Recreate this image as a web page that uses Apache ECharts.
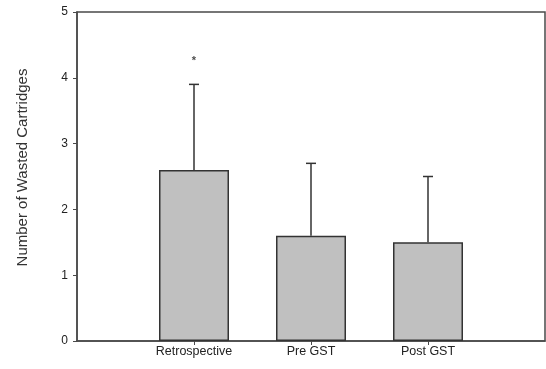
<!DOCTYPE html>
<html>
<head>
<meta charset="utf-8">
<script src="https://cdn.jsdelivr.net/npm/echarts@6/dist/echarts.min.js"></script>
<style>html,body{margin:0;padding:0;background:#fff;}#c{width:546px;height:369px;}</style>
</head>
<body>
<div id="c"></div>
<script>
var categories = ['', 'Retrospective', 'Pre GST', 'Post GST', ''];
var means = [null, 2.6, 1.6, 1.5, null];
var errorTops = [null, 3.9, 2.7, 2.5, null];
var asterisks = [[1, 4.3]];
var yTicks = [0, 1, 2, 3, 4, 5];

var chart = echarts.init(document.getElementById('c'));
var lineColor = '#4a4a4a';
chart.setOption({
  animation: false,
  grid: { left: 77, right: 1, top: 12, bottom: 28, show: true, borderColor: lineColor, borderWidth: 1.5, backgroundColor: 'transparent' },
  xAxis: {
    type: 'category', data: categories, boundaryGap: false,
    axisLine: { lineStyle: { color: lineColor, width: 1.5 } },
    axisTick: { show: true, length: 4, lineStyle: { color: lineColor }, interval: function (i, v) { return v !== ''; }, alignWithLabel: true },
    axisLabel: { color: '#222', fontFamily: 'Liberation Sans, Arial', fontSize: 12.5, margin: 4, interval: function (i, v) { return v !== ''; } },
    splitLine: { show: false }
  },
  yAxis: {
    type: 'value', min: 0, max: 5, interval: 1,
    name: 'Number of Wasted Cartridges', nameLocation: 'middle', nameGap: 47,
    nameTextStyle: { color: '#333', fontFamily: 'Liberation Sans, Arial', fontSize: 15, padding: [0, 0, 0, 18] },
    axisLine: { show: true, lineStyle: { color: lineColor, width: 1.5 } },
    axisTick: { show: true, length: 4, lineStyle: { color: lineColor } },
    axisLabel: { color: '#222', fontFamily: 'Liberation Sans, Arial', fontSize: 12, margin: 9 },
    splitLine: { show: false }
  },
  series: [
    {
      type: 'bar', data: means, barWidth: 70,
      itemStyle: { color: '#c0c0c0', borderColor: '#333', borderWidth: 1.5 }
    },
    {
      type: 'custom',
      data: errorTops.map(function (v, i) { return v == null ? null : [i, means[i], v]; }).filter(function (d) { return d; }),
      renderItem: function (params, api) {
        var lo = api.coord([api.value(0), api.value(1)]);
        var hi = api.coord([api.value(0), api.value(2)]);
        var w = 5;
        return {
          type: 'group', children: [
            { type: 'line', shape: { x1: lo[0], y1: lo[1], x2: hi[0], y2: hi[1] }, style: { stroke: '#333', lineWidth: 1.5 } },
            { type: 'line', shape: { x1: hi[0] - w, y1: hi[1], x2: hi[0] + w, y2: hi[1] }, style: { stroke: '#333', lineWidth: 1.5 } }
          ]
        };
      },
      z: 3
    },
    {
      type: 'scatter', data: asterisks, symbolSize: 0,
      label: { show: true, formatter: '*', position: 'inside', color: '#222', fontSize: 11, fontWeight: 'bold', fontFamily: 'Liberation Sans, Arial', offset: [0, 3] }
    }
  ]
});
</script>
</body>
</html>
